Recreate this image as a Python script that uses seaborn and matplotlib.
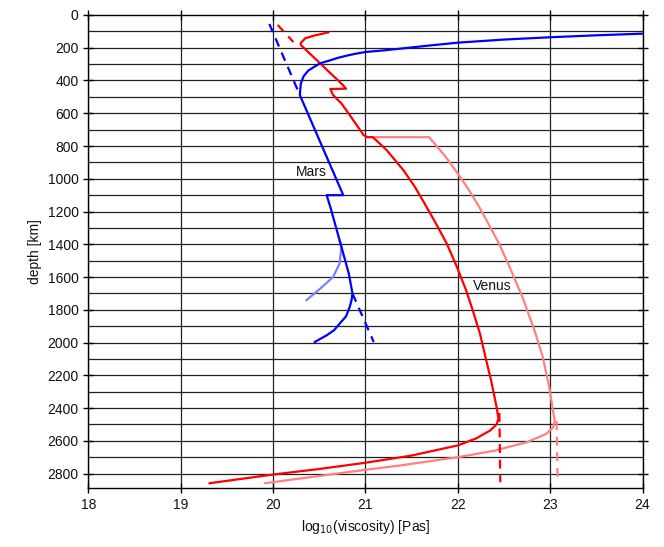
import matplotlib
matplotlib.use("Agg")
import matplotlib.pyplot as plt
import seaborn as sns
import pandas as pd

# ---- data (log10 viscosity, depth km) ----
mars_x = [24.0, 23.5, 23.0, 22.5, 22.0, 21.7, 21.37, 21.2, 21.0, 20.9, 20.83, 20.7, 20.6, 20.51,
          20.45, 20.38, 20.33, 20.30, 20.29,
          20.76, 20.58, 20.62, 20.72, 20.82, 20.86, 20.85, 20.83, 20.79, 20.72, 20.66, 20.58, 20.45]
mars_d = [114, 124, 136, 150, 169, 186, 206, 216, 226, 236, 244, 262, 280, 295,
          315, 340, 375, 420, 489,
          1100, 1100, 1172, 1375, 1579, 1701, 1740, 1783, 1840, 1885, 1925, 1956, 1997]

mars_dash_top_x = [19.96, 20.29]
mars_dash_top_d = [55, 489]
mars_dash_bot_x = [20.86, 21.09]
mars_dash_bot_d = [1701, 1997]

mars_alt_x = [20.72, 20.74, 20.72, 20.65, 20.51, 20.36]
mars_alt_d = [1375, 1416, 1518, 1600, 1671, 1742]

venus_x = [20.60, 20.45, 20.35, 20.30, 20.30, 20.76, 20.79, 20.62, 20.65, 20.74, 20.83, 20.98, 21.02, 21.08,
           21.23, 21.41, 21.53, 21.62, 21.76, 21.88, 21.99, 22.09, 22.16, 22.24, 22.30, 22.36,
           22.42, 22.44, 22.42, 22.35, 22.2, 22.0, 21.5, 21.0, 20.5, 20.0, 19.31]
venus_d = [106, 125, 142, 170, 183, 430, 450, 452, 489, 540, 611, 733, 746, 746,
           825, 947, 1045, 1131, 1270, 1395, 1538, 1681, 1800, 1946, 2090, 2231,
           2394, 2465, 2500, 2537, 2585, 2628, 2690, 2734, 2772, 2806, 2859]

venus_top_dash_x = [20.05, 20.22]
venus_top_dash_d = [61, 165]

venus_bot_dash_x = [22.45, 22.46]
venus_bot_dash_d = [2430, 2853]

venus_alt_x = [21.08, 21.69, 21.86, 22.00, 22.11, 22.23, 22.33, 22.45, 22.56, 22.70, 22.83, 22.92, 22.99,
               23.03, 23.05, 23.03, 22.96, 22.75, 22.4, 22.0, 21.37, 21.0, 19.91]
venus_alt_d = [746, 746, 860, 968, 1060, 1170, 1273, 1400, 1538, 1722, 1925, 2089, 2272,
               2414, 2476, 2520, 2557, 2608, 2660, 2700, 2751, 2777, 2859]

venus_alt_dash_x = [23.07, 23.08]
venus_alt_dash_d = [2480, 2832]

x_ticks = [18, 19, 20, 21, 22, 23, 24]
y_ticks = list(range(0, 2801, 200))

sns.set_theme(style="white")
plt.rcParams['font.family'] = ['Liberation Sans', 'DejaVu Sans']

fig = plt.figure(figsize=(6.64, 5.47), dpi=100)
ax = fig.add_axes([0.133, 0.1073, 0.8347, 0.8653])

# grid
for d in range(100, 2900, 100):
    ax.axhline(d, color='#222222', lw=0.9, zorder=0)
for x in x_ticks:
    ax.axvline(x, color='#222222', lw=0.9, zorder=0)

def line(xs, ds, color, lw, ls='-'):
    df = pd.DataFrame({'x': xs, 'd': ds})
    sns.lineplot(data=df, x='x', y='d', sort=False, estimator=None, color=color,
                 lw=lw, linestyle=ls, ax=ax)

DASH = (0, (4, 3))
line(venus_alt_x, venus_alt_d, '#ff8080', 1.6)
line(venus_alt_dash_x, venus_alt_dash_d, '#ff8080', 1.6, DASH)
line(mars_alt_x, mars_alt_d, '#8080ff', 1.6)
line(venus_x, venus_d, '#ff0000', 1.6)
line(venus_top_dash_x, venus_top_dash_d, '#ff0000', 1.6, DASH)
line(venus_bot_dash_x, venus_bot_dash_d, '#ff0000', 1.6, DASH)
line(mars_dash_top_x, mars_dash_top_d, '#0000ff', 1.6, DASH)
line(mars_dash_bot_x, mars_dash_bot_d, '#0000ff', 1.6, DASH)
line(mars_x, mars_d, '#0000ff', 1.6)

ax.text(20.41, 960, 'Mars', fontsize=10, ha='center', va='center', color='#111111')
ax.text(22.37, 1656, 'Venus', fontsize=10, ha='center', va='center', color='#111111')

ax.set_xlim(18, 24)
ax.set_ylim(2890, 0)
ax.set_xticks(x_ticks)
ax.set_yticks(y_ticks)
ax.set_xticklabels([str(v) for v in x_ticks])
ax.set_yticklabels([str(v) for v in y_ticks])
ax.tick_params(direction='inout', length=7, width=1, color='black', labelsize=10,
               top=True, right=True, bottom=True, left=True, labelcolor='#111111')
ax.set_xlabel(r'log$_{10}$(viscosity) [Pas]', fontsize=10, color='#111111')
ax.set_ylabel('depth [km]', fontsize=10, color='#111111')
for s in ax.spines.values():
    s.set_visible(True)
    s.set_color('black')
    s.set_linewidth(1.0)

fig.savefig('out.png', dpi=100)
